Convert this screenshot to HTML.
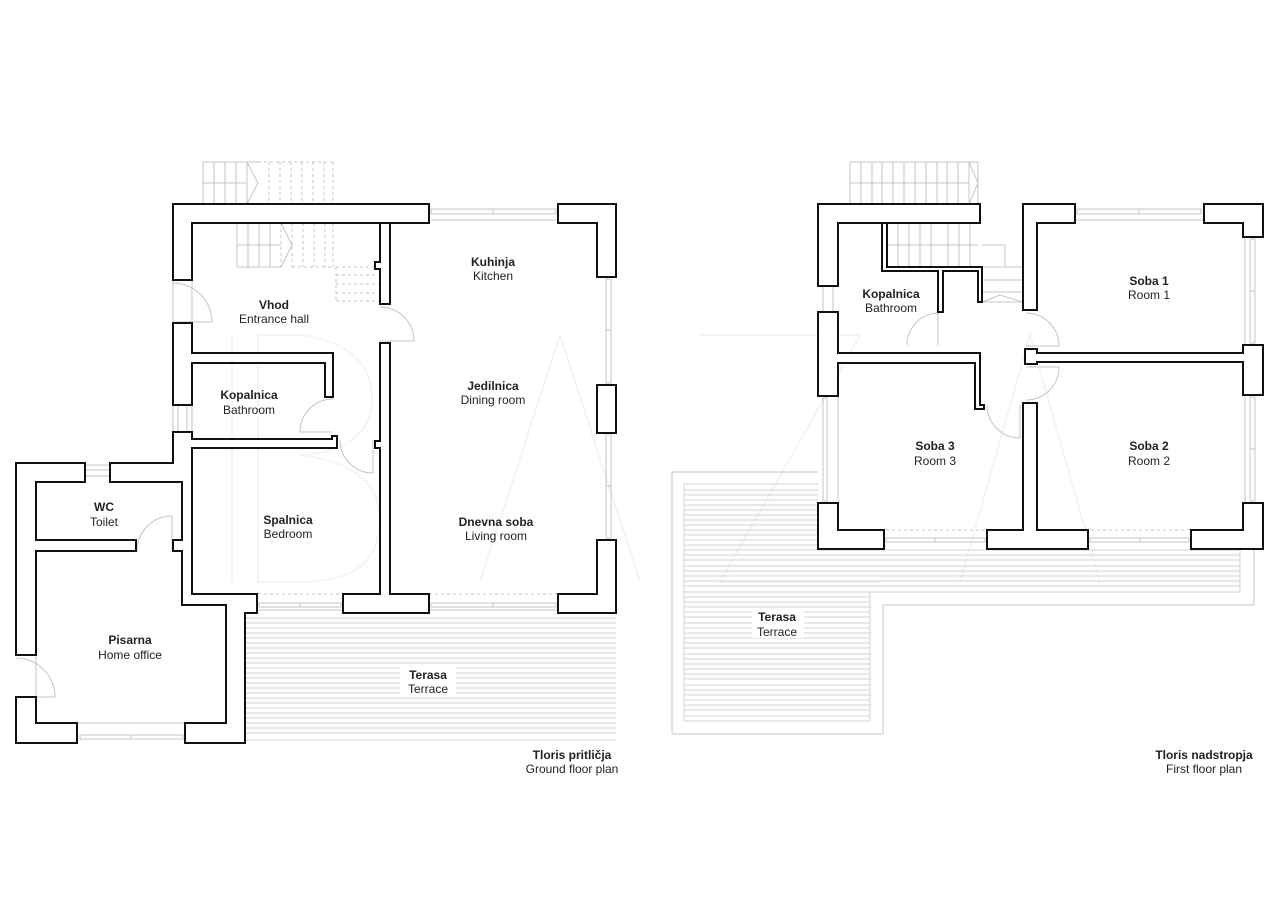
<!DOCTYPE html>
<html><head><meta charset="utf-8"><style>
html,body{margin:0;padding:0;background:#fff;}
svg{display:block;}
text{font-family:"Liberation Sans",Arial,sans-serif;font-size:12px;fill:#222;text-anchor:middle;}
.b{font-weight:bold;}
.w{fill:#fff;stroke:#111;stroke-width:2;stroke-linejoin:miter;}
.g{stroke:#c4c4c4;stroke-width:1;fill:none;}
.gd{stroke:#c4c4c4;stroke-width:1;fill:none;stroke-dasharray:3 3;}
.lg{stroke:#d0d0d0;stroke-width:1;fill:none;}
</style></head><body>
<svg width="1280" height="904" viewBox="0 0 1280 904" xmlns="http://www.w3.org/2000/svg">
<rect width="1280" height="904" fill="#fff"/>
<!-- watermark -->
<g fill="none" stroke="#f4f4f4" stroke-width="2">
<path d="M232 335 V582 M258 335 H300 Q372 345 372 398 Q372 450 300 455 Q380 465 380 520 Q380 582 300 582 H258 Z"/>
<path d="M480 582 L560 335 L640 582"/>
<path d="M700 335 H860 L720 582 H880"/>
<path d="M960 582 L1030 335 L1100 582"/>
</g>

<!-- ========== GROUND FLOOR ========== -->
<g class="lg">
<path d="M245 618 H616 M245 623 H616 M245 628 H616 M245 633 H616 M245 638 H616 M245 643 H616 M245 648 H616 M245 653 H616 M245 658 H616 M245 663 H616 M245 668 H616 M245 673 H616 M245 678 H616 M245 683 H616 M245 688 H616 M245 693 H616 M245 698 H616 M245 703 H616 M245 708 H616 M245 713 H616 M245 718 H616 M245 723 H616 M245 728 H616 M245 733 H616 M245 740 H616"/>
</g>
<rect x="400" y="666" width="56" height="30" fill="#fff"/>
<g class="g">
<path d="M203 162 H258 M203 183 H247 M203 162 V204 M214 162 V204 M225 162 V204 M236 162 V204 M247 162 V204 M247 162 L258 183 L247 204"/>
<path d="M237 223 V267 M248 223 V267 M259 223 V267 M270 223 V267 M237 245 H281 M237 267 H281 M281 223 L292 245 L281 267"/>
</g>
<g class="gd">
<path d="M258 162 H333 M258 204 H333 M269 162 V204 M280 162 V204 M291 162 V204 M302 162 V204 M313 162 V204 M324 162 V204 M333 162 V204"/>
<path d="M281 223 V267 M292 223 V267 M303 223 V267 M314 223 V267 M325 223 V267 M333 223 V267 M292 267 H333"/>
<path d="M336 267 H380 M336 275 H380 M336 284 H380 M336 293 H380 M336 301 H380 M336 267 V301"/>
</g>
<g class="g">
<rect x="431" y="209" width="125" height="5"/><path d="M493 209 V214 M431 220 H556"/>
<rect x="606" y="279" width="5" height="104"/><path d="M606 330 H611"/>
<rect x="606" y="434" width="5" height="104"/><path d="M606 486 H611"/>
<path d="M173 405 V432 M178 405 V432 M187 405 V432 M192 405 V432"/>
<path d="M85 465 H110 M85 470 H110 M85 476 H110"/>
<rect x="80" y="735" width="103" height="4"/><path d="M131 735 V739 M77 723 H185"/>
<rect x="259" y="603" width="82" height="4"/><path d="M300 603 V607 M257 610 H343"/>
<rect x="431" y="603" width="125" height="4"/><path d="M493 603 V607 M429 610 H558"/>
<path d="M173 280 V323 M192 280 V323 M36 655 V697"/>
</g>
<path d="M192 594 H343 M429 594 H558" class="gd"/>
<g class="g">
<path d="M173 283 A39 39 0 0 1 212 322 H173"/>
<path d="M380 307 A34 34 0 0 1 414 341 H380"/>
<path d="M333 399 A33 33 0 0 0 300 432 H333"/>
<path d="M340 440 A33 33 0 0 0 373 473 V440"/>
<path d="M137 551 A35 35 0 0 1 172 516 V551"/>
<path d="M16 658 A39 39 0 0 1 55 697 H16"/>
</g>
<g class="w">
<path d="M173 204 H429 V223 H192 V280 H173 Z"/>
<path d="M380 223 H390 V304 H380 V269 H375 V262 H380 Z"/>
<path d="M380 343 H390 V594 H429 V613 H343 V594 H380 V448 H375 V441 H380 Z"/>
<path d="M558 204 H616 V277 H597 V223 H558 Z"/>
<rect x="597" y="385" width="19" height="48"/>
<path d="M597 540 H616 V613 H558 V594 H597 Z"/>
<path d="M173 323 H192 V353 H333 V397 H325 V363 H192 V405 H173 Z"/>
<path d="M173 432 H192 V439 H332 V436 H337 V448 H192 V594 H257 V613 H245 V743 H185 V723 H226 V605 H182 V551 H173 V540 H182 V482 H110 V463 H173 Z"/>
<path d="M16 463 H85 V482 H36 V540 H136 V551 H36 V655 H16 Z"/>
<path d="M16 697 H36 V723 H77 V743 H16 Z"/>
</g>
<text x="493" y="266" class="b">Kuhinja</text><text x="493" y="280">Kitchen</text>
<text x="274" y="309" class="b">Vhod</text><text x="274" y="323">Entrance hall</text>
<text x="249" y="399" class="b">Kopalnica</text><text x="249" y="414">Bathroom</text>
<text x="493" y="390" class="b">Jedilnica</text><text x="493" y="404">Dining room</text>
<text x="288" y="524" class="b">Spalnica</text><text x="288" y="538">Bedroom</text>
<text x="496" y="526" class="b">Dnevna soba</text><text x="496" y="540">Living room</text>
<text x="104" y="511" class="b">WC</text><text x="104" y="526">Toilet</text>
<text x="130" y="644" class="b">Pisarna</text><text x="130" y="659">Home office</text>
<text x="428" y="679" class="b">Terasa</text><text x="428" y="693">Terrace</text>
<text x="572" y="759" class="b">Tloris pritličja</text><text x="572" y="773">Ground floor plan</text>

<!-- ========== FIRST FLOOR ========== -->
<path d="M818 472 H672 V734 H883 V605 H1254 V545" class="g"/>
<g class="lg">
<path d="M684 484 H818 M684 490 H818 M684 495 H818 M684 500 H818 M684 505 H818 M684 510 H818 M684 515 H818 M684 520 H818 M684 525 H818 M684 530 H818 M684 535 H818 M684 540 H818 M684 545 H818"/>
<path d="M684 550 H1240 M684 555 H1240 M684 560 H1240 M684 566 H1240 M684 571 H1240 M684 576 H1240 M684 581 H1240 M684 586 H1240 M684 592 H1240"/>
<path d="M684 597 H870 M684 602 H870 M684 607 H870 M684 612 H870 M684 617 H870 M684 623 H870 M684 628 H870 M684 633 H870 M684 638 H870 M684 643 H870 M684 648 H870 M684 654 H870 M684 659 H870 M684 664 H870 M684 669 H870 M684 674 H870 M684 679 H870 M684 685 H870 M684 690 H870 M684 695 H870 M684 700 H870 M684 705 H870 M684 710 H870 M684 716 H870 M684 721 H870 M684 484 V721 M870 592 V721 M1240 549 V592"/>
</g>
<rect x="752" y="608" width="52" height="30" fill="#fff"/>
<g class="g">
<path d="M850 162 H978 M850 183 H969 M850 162 V204 M861 162 V204 M872 162 V204 M882 162 V204 M893 162 V204 M904 162 V204 M915 162 V204 M926 162 V204 M937 162 V204 M947 162 V204 M958 162 V204 M969 162 V204 M978 162 V204 M969 162 L978 183 L969 204"/>
<path d="M898 223 V267 M909 223 V267 M920 223 V267 M931 223 V267 M948 223 V267 M959 223 V267 M970 223 V267 M887 245 H978"/>
<path d="M982 245 H1005 V267 M982 267 H1023 M982 280 H1023 M982 292 H1023 M982 302 H1023 M982 302 L1000 295 L1023 302"/>
</g>
<g class="g">
<rect x="1077" y="209" width="124" height="5"/><path d="M1139 209 V214 M1075 220 H1203"/>
<rect x="1250" y="239" width="5" height="104"/><path d="M1250 291 H1255 M1245 237 V345"/>
<rect x="1250" y="397" width="5" height="104"/><path d="M1250 449 H1255 M1245 395 V503"/>
<path d="M823 286 V312 M833 286 V312"/>
<rect x="823" y="398" width="4" height="103"/><path d="M838 396 V503"/>
<rect x="886" y="538" width="99" height="4"/><path d="M935 538 V542"/>
<rect x="1090" y="538" width="99" height="4"/><path d="M1140 538 V542"/>
</g>
<path d="M838 530 H1023 M1037 530 H1243" class="gd"/>
<g class="g">
<path d="M907 345 A32 32 0 0 1 938 313 V345"/>
<path d="M1026 313 A33 33 0 0 1 1059 346 H1026"/>
<path d="M1026 400 A33 33 0 0 0 1059 367 H1026"/>
<path d="M987 405 A33 33 0 0 0 1020 438 V405"/>
</g>
<g class="w">
<path d="M818 204 H980 V223 H838 V286 H818 Z"/>
<path d="M882 223 H887 V267 H982 V302 H978 V271 H943 V312 H938 V271 H882 Z"/>
<path d="M818 312 H838 V353 H980 V405 H984 V409 H975 V363 H838 V396 H818 Z"/>
<path d="M818 503 H838 V530 H884 V549 H818 Z"/>
<path d="M1023 403 H1037 V530 H1088 V549 H987 V530 H1023 Z"/>
<path d="M1243 503 H1263 V549 H1191 V530 H1243 Z"/>
<path d="M1025 349 H1037 V353 H1243 V345 H1263 V395 H1243 V362 H1037 V364 H1025 Z"/>
<path d="M1204 204 H1263 V237 H1243 V223 H1204 Z"/>
<path d="M1023 204 H1075 V223 H1037 V310 H1023 Z"/>
</g>
<text x="891" y="298" class="b">Kopalnica</text><text x="891" y="312">Bathroom</text>
<text x="1149" y="285" class="b">Soba 1</text><text x="1149" y="299">Room 1</text>
<text x="935" y="450" class="b">Soba 3</text><text x="935" y="465">Room 3</text>
<text x="1149" y="450" class="b">Soba 2</text><text x="1149" y="465">Room 2</text>
<text x="777" y="621" class="b">Terasa</text><text x="777" y="636">Terrace</text>
<text x="1204" y="759" class="b">Tloris nadstropja</text><text x="1204" y="773">First floor plan</text>
</svg>
</body></html>
